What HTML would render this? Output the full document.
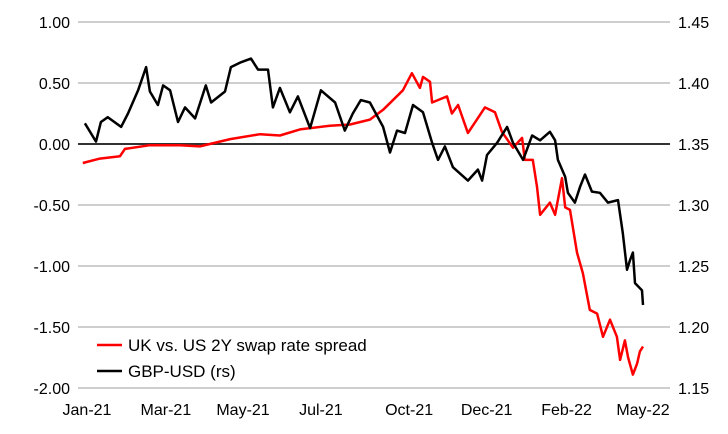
<!DOCTYPE html>
<html><head><meta charset="utf-8"><style>
html,body{margin:0;padding:0;background:#fff;}
svg{display:block;font-family:"Liberation Sans",Arial,sans-serif;}
</style></head><body>
<svg id="chart" width="728" height="434" viewBox="0 0 728 434">
<g id="grid"></g>
<g id="yl"></g>
<g id="yr"></g>
<g id="xa"></g>
<g id="series"></g>
<g>
<line x1="97" y1="345" x2="122" y2="345" stroke="#ff0000" stroke-width="2.5"/>
<text x="128" y="351" font-size="17" fill="#000">UK vs. US 2Y swap rate spread</text>
<line x1="97" y1="371" x2="122" y2="371" stroke="#000" stroke-width="2.5"/>
<text x="128" y="377" font-size="17" fill="#000">GBP-USD (rs)</text>
</g>
</svg>
<script>
const leftTicks=[1.00,0.50,0.00,-0.50,-1.00,-1.50,-2.00];
const rightTicks=[1.45,1.40,1.35,1.30,1.25,1.20,1.15];
const xTickLabels=["Jan-21","Mar-21","May-21","Jul-21","Oct-21","Dec-21","Feb-22","May-22"];
const xTickMonths=[0,2.27,4.49,6.73,9.27,11.5,13.8,16];
const spreadMonths=[-0.12,0.37,0.95,1.09,1.81,2.68,3.25,4.12,4.98,5.55,6.13,6.99,7.57,8.14,8.52,9.09,9.35,9.58,9.67,9.87,9.93,10.36,10.50,10.68,10.96,11.22,11.45,11.74,11.94,12.26,12.52,12.60,12.83,12.95,13.04,13.32,13.47,13.67,13.76,13.90,14.10,14.27,14.47,14.68,14.85,15.05,15.25,15.34,15.48,15.57,15.71,15.83,15.91,16.00];
const spreadValues=[-0.156,-0.12,-0.10,-0.04,-0.01,-0.01,-0.02,0.04,0.08,0.07,0.12,0.15,0.16,0.20,0.28,0.44,0.58,0.46,0.55,0.51,0.34,0.39,0.25,0.32,0.09,0.20,0.30,0.26,0.10,-0.03,0.05,-0.13,-0.13,-0.35,-0.58,-0.48,-0.58,-0.28,-0.52,-0.54,-0.89,-1.06,-1.36,-1.39,-1.58,-1.44,-1.58,-1.77,-1.61,-1.75,-1.89,-1.80,-1.70,-1.66];
const fxMonths=[-0.06,0.26,0.40,0.60,0.98,1.18,1.47,1.70,1.81,2.04,2.19,2.39,2.62,2.82,3.11,3.42,3.57,3.97,4.14,4.43,4.72,4.92,5.21,5.35,5.55,5.84,6.07,6.42,6.73,7.14,7.42,7.65,7.88,8.14,8.52,8.72,8.92,9.15,9.38,9.67,9.93,10.10,10.30,10.53,10.96,11.25,11.37,11.51,11.80,12.09,12.26,12.55,12.81,13.04,13.32,13.47,13.55,13.76,13.84,14.04,14.19,14.33,14.53,14.76,14.99,15.28,15.42,15.54,15.63,15.71,15.77,15.97,16.00];
const fxValues=[1.367,1.352,1.368,1.372,1.364,1.375,1.394,1.413,1.393,1.382,1.398,1.394,1.368,1.380,1.371,1.398,1.384,1.393,1.413,1.417,1.420,1.411,1.411,1.380,1.396,1.376,1.389,1.363,1.394,1.384,1.361,1.375,1.386,1.384,1.364,1.343,1.361,1.359,1.382,1.376,1.351,1.337,1.348,1.331,1.320,1.329,1.320,1.341,1.351,1.364,1.351,1.337,1.357,1.353,1.360,1.353,1.337,1.323,1.310,1.302,1.315,1.325,1.311,1.310,1.302,1.304,1.277,1.247,1.255,1.261,1.236,1.230,1.218];

const NS="http://www.w3.org/2000/svg";
const X0=78,X1=670,YT=22,YB=388;
function xs(m){return 87+m*34.75;}
function yl(v){return YT+(1-v)/3*(YB-YT);}
function yr(v){return YT+(1.45-v)/0.30*(YB-YT);}
function mk(tag,attrs,parent){const e=document.createElementNS(NS,tag);for(const k in attrs)e.setAttribute(k,attrs[k]);parent.appendChild(e);return e;}
const grid=document.getElementById('grid'),gl=document.getElementById('yl'),gr=document.getElementById('yr'),gx=document.getElementById('xa'),gs=document.getElementById('series');
leftTicks.forEach(v=>{
  const y=yl(v);
  const ln=mk('line',{x1:X0,x2:X1,y1:y,y2:y,stroke:v===0?'#333':'#bdbdbd','stroke-width':v===0?2:1.5},grid);
  
  
  const t=mk('text',{x:70,y:y+6,'text-anchor':'end','font-size':16,fill:'#000'},gl);
  t.textContent=v.toFixed(2);
  
  
});
rightTicks.forEach(v=>{
  const t=mk('text',{x:678,y:yr(v)+6,'font-size':16,fill:'#000'},gr);
  t.textContent=v.toFixed(2);
  
  
});
xTickLabels.forEach((s,i)=>{
  const t=mk('text',{x:xs(xTickMonths[i]),y:415,'text-anchor':'middle','font-size':16,fill:'#000'},gx);
  t.textContent=s;
  
  
});
const p1=mk('polyline',{points:spreadMonths.map((m,i)=>xs(m).toFixed(1)+','+yl(spreadValues[i]).toFixed(1)).join(' '),fill:'none',stroke:'#ff0000','stroke-width':2.5,'stroke-linejoin':'round'},gs);


const p2=mk('polyline',{points:fxMonths.map((m,i)=>xs(m).toFixed(1)+','+yr(fxValues[i]).toFixed(1)).join(' '),fill:'none',stroke:'#000','stroke-width':2.5,'stroke-linejoin':'round'},gs);


</script>
</body></html>
